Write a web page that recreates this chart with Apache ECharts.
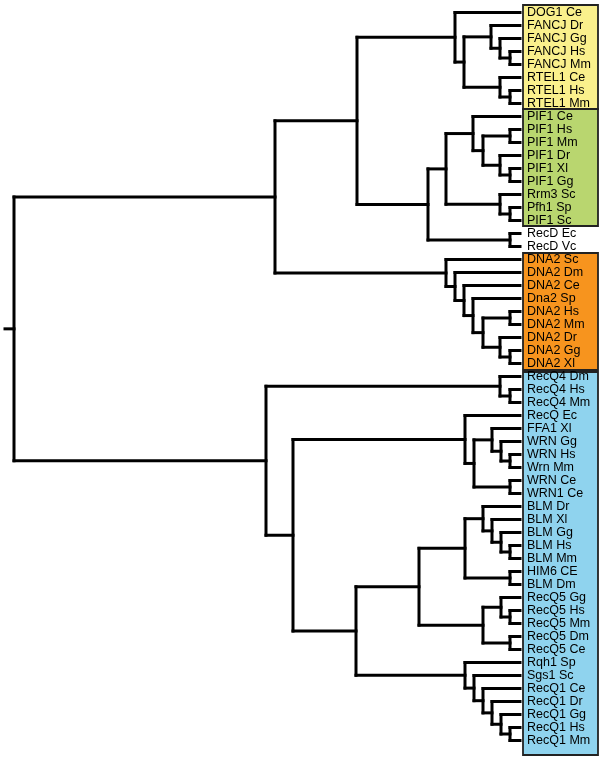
<!DOCTYPE html>
<html><head><meta charset="utf-8">
<script src="https://cdn.jsdelivr.net/npm/echarts@6/dist/echarts.min.js"></script>
<style>html,body{margin:0;padding:0;background:#fff}#c{width:603px;height:761px}</style>
</head><body><div id="c"></div>
<script>
// Leaf order (top to bottom)
const leaves = [
  'DOG1 Ce','FANCJ Dr','FANCJ Gg','FANCJ Hs','FANCJ Mm','RTEL1 Ce','RTEL1 Hs','RTEL1 Mm',
  'PIF1 Ce','PIF1 Hs','PIF1 Mm','PIF1 Dr','PIF1 Xl','PIF1 Gg','Rrm3 Sc','Pfh1 Sp','PIF1 Sc',
  'RecD Ec','RecD Vc',
  'DNA2 Sc','DNA2 Dm','DNA2 Ce','Dna2 Sp','DNA2 Hs','DNA2 Mm','DNA2 Dr','DNA2 Gg','DNA2 Xl',
  'RecQ4 Dm','RecQ4 Hs','RecQ4 Mm','RecQ Ec','FFA1 Xl','WRN Gg','WRN Hs','Wrn Mm','WRN Ce','WRN1 Ce',
  'BLM Dr','BLM Xl','BLM Gg','BLM Hs','BLM Mm','HIM6 CE','BLM Dm',
  'RecQ5 Gg','RecQ5 Hs','RecQ5 Mm','RecQ5 Dm','RecQ5 Ce',
  'Rqh1 Sp','Sgs1 Sc','RecQ1 Ce','RecQ1 Dr','RecQ1 Gg','RecQ1 Hs','RecQ1 Mm'
];
// Tip depth (distance from root) of every leaf
const tipDepth = 506;
// Tree: [nodeDepth, child, child, ...]; leaves given by name
const tree = [0,
  [261,
    [343,
      [441, 'DOG1 Ce',
        [450,
          [477, 'FANCJ Dr', [486, 'FANCJ Gg', [496, 'FANCJ Hs', 'FANCJ Mm']]],
          [486, 'RTEL1 Ce', [496, 'RTEL1 Hs', 'RTEL1 Mm']]]],
      [414,
        [432,
          [459, 'PIF1 Ce', [469, [496, 'PIF1 Hs', 'PIF1 Mm'], [486, 'PIF1 Dr', [496, 'PIF1 Xl', 'PIF1 Gg']]]],
          [486, 'Rrm3 Sc', [496, 'Pfh1 Sp', 'PIF1 Sc']]],
        [496, 'RecD Ec', 'RecD Vc']]],
    [432, 'DNA2 Sc', [441, 'DNA2 Dm', [450, 'DNA2 Ce', [459, 'Dna2 Sp',
      [469, [496, 'DNA2 Hs', 'DNA2 Mm'], [486, 'DNA2 Dr', [496, 'DNA2 Gg', 'DNA2 Xl']]]]]]]],
  [252,
    [486, 'RecQ4 Dm', [496, 'RecQ4 Hs', 'RecQ4 Mm']],
    [279,
      [451, 'RecQ Ec',
        [460, [478, 'FFA1 Xl', [487, 'WRN Gg', [496, 'WRN Hs', 'Wrn Mm']]], [496, 'WRN Ce', 'WRN1 Ce']]],
      [342,
        [405,
          [451, [469, 'BLM Dr', [478, 'BLM Xl', [487, 'BLM Gg', [496, 'BLM Hs', 'BLM Mm']]]], [496, 'HIM6 CE', 'BLM Dm']],
          [469, [487, 'RecQ5 Gg', [496, 'RecQ5 Hs', 'RecQ5 Mm']], [496, 'RecQ5 Dm', 'RecQ5 Ce']]],
        [451, 'Rqh1 Sp', [460, 'Sgs1 Sc', [469, 'RecQ1 Ce', [478, 'RecQ1 Dr', [487, 'RecQ1 Gg', [496, 'RecQ1 Hs', 'RecQ1 Mm']]]]]]]]]
];
// Highlighted clades: [firstLeaf, lastLeaf]
const clades = [['DOG1 Ce','RTEL1 Mm'], ['PIF1 Ce','PIF1 Sc'], ['DNA2 Sc','DNA2 Xl'], ['RecQ4 Dm','RecQ1 Mm']];

// ---- styles ----
const cladeColors = ['#FAF08C', '#B9D66F', '#F7941E', '#8FD3EE'];
const boxPadTop = [-1, -1, 0, 2];
const boxPadBottom = [-1, -1, 0, 8];
const stubLen = 9;

// ---- build segments ----
const segs = [];
function lay(n) {
  if (typeof n === 'string') return { x: tipDepth, y: leaves.indexOf(n) };
  const d = n[0];
  const ks = n.slice(1).map(lay);
  const ys = ks.map(k => k.y);
  const y0 = Math.min(...ys), y1 = Math.max(...ys);
  segs.push([d, y0, d, y1]);
  ks.forEach(k => segs.push([d, k.y, k.x, k.y]));
  return { x: d, y: (y0 + y1) / 2 };
}
const rootPos = lay(tree);
segs.push([-stubLen, rootPos.y, 0, rootPos.y]);

const boxData = clades.map((c, i) => [leaves.indexOf(c[0]), leaves.indexOf(c[1]), i]);

const chart = echarts.init(document.getElementById('c'), null, { renderer: 'canvas' });
chart.setOption({
  animation: false,
  backgroundColor: '#fff',
  grid: { left: 5, right: 83, top: 6, bottom: 14 },
  xAxis: { type: 'value', min: -stubLen, max: tipDepth, show: false },
  yAxis: [
    { type: 'value', min: -0.5, max: leaves.length - 0.5, inverse: true, show: false },
    { type: 'category', data: leaves, inverse: true, position: 'right', z: 10,
      axisLine: { show: false }, axisTick: { show: false }, splitLine: { show: false },
      axisLabel: { margin: 7, color: '#000', fontSize: 12.5, fontFamily: 'Liberation Sans, Arial, sans-serif', interval: 0 } }
  ],
  series: [
    {
      type: 'custom', yAxisIndex: 0, z: 1, clip: false,
      data: boxData,
      renderItem: function (params, api) {
        const i = api.value(2);
        const p0 = api.coord([tipDepth, api.value(0) - 0.5]);
        const p1 = api.coord([tipDepth, api.value(1) + 0.5]);
        return {
          type: 'rect',
          shape: { x: p0[0] + 3, y: p0[1] + boxPadTop[i], width: 75, height: p1[1] - p0[1] - boxPadTop[i] + boxPadBottom[i] },
          style: { fill: cladeColors[i], stroke: '#222', lineWidth: 1.8 }
        };
      }
    },
    {
      type: 'custom', yAxisIndex: 0, z: 3, clip: false,
      data: segs,
      renderItem: function (params, api) {
        const a = api.coord([api.value(0), api.value(1)]);
        const b = api.coord([api.value(2), api.value(3)]);
        return {
          type: 'line',
          shape: { x1: a[0], y1: a[1], x2: b[0], y2: b[1] },
          style: { stroke: '#000', lineWidth: 3, lineCap: 'square' }
        };
      }
    }
  ]
});
</script></body></html>
